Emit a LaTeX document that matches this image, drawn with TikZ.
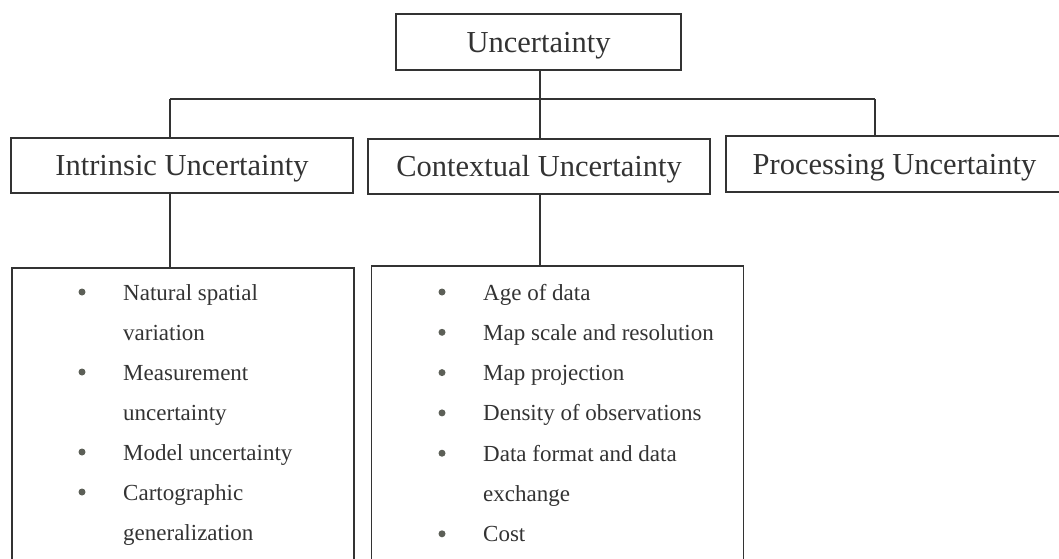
\documentclass[tikz,border=0pt]{standalone}
\usepackage{fontspec}
\setmainfont{Liberation Serif}
\definecolor{ink}{HTML}{333333}
\definecolor{dotc}{HTML}{5C5F57}
\tikzset{
  box/.style={draw=ink, line width=1.5pt, rectangle, inner sep=0pt, outer sep=0pt, text=ink,
    text height=25pt, text depth=5pt, font=\fontsize{30.5}{36}\selectfont},
  listbox/.style={draw=ink, line width=1.5pt, rectangle, inner sep=0pt, outer sep=0pt, anchor=north},
  item/.style={anchor=base west, inner sep=0pt, text=ink, font=\fontsize{23}{28}\selectfont},
  bul/.style={circle, fill=dotc, minimum size=7pt, inner sep=0pt},
  conn/.style={draw=ink, line width=1.5pt}
}
\begin{document}
\begin{tikzpicture}[x=1pt, y=-1pt]
\useasboundingbox (0,0) rectangle (1059,558);
% top
\node[box, minimum width=285pt, minimum height=56pt] (U) at (538.5,42) {Uncertainty};
% second level
\node[box, minimum width=342pt, minimum height=55pt] (I) at (182,165.5) {Intrinsic Uncertainty};
\node[box, minimum width=342pt, minimum height=55pt] (C) at (539,166.5) {Contextual Uncertainty};
\node[box, minimum width=337pt, minimum height=56pt] (P) at (894.5,164) {Processing Uncertainty};
% lower boxes
\node[listbox, minimum width=342pt, minimum height=300pt] (IL) at (183,268) {};
\node[listbox, minimum width=372pt, minimum height=300pt] (CL) at (557.5,266) {};
% connectors
\coordinate (jL) at (170,99);
\coordinate (jM) at (540,99);
\coordinate (jR) at (875,99);
\draw[conn] (jL) -- (jR);
\draw[conn] (jL) -- (jL |- I.north);
\draw[conn] (jR) -- (jR |- P.north);
\draw[conn] (jM |- U.south) -- (jM |- C.north);
\draw[conn] (I.south -| jL) -- (IL.north -| jL);
\draw[conn] (C.south -| jM) -- (CL.north -| jM);
% left list
\foreach \t/\b [count=\i from 0] in {Natural spatial/1, variation/0, Measurement/1, uncertainty/0, Model uncertainty/1, Cartographic/1, generalization/0}{
  \node[item] (li\i) at (123,300+40*\i) {\t};
  \ifnum\b=1 \node[bul] (lb\i) at (82,292+40*\i) {};\fi
}
% right list
\foreach \t/\b [count=\i from 0] in {Age of data/1, Map scale and resolution/1, Map projection/1, Density of observations/1, Data format and data/1, exchange/0, Cost/1}{
  \node[item] (ri\i) at (483,300+40.3*\i) {\t};
  \ifnum\b=1 \node[bul] (rb\i) at (442,292+40.3*\i) {};\fi
}
\end{tikzpicture}
\end{document}
